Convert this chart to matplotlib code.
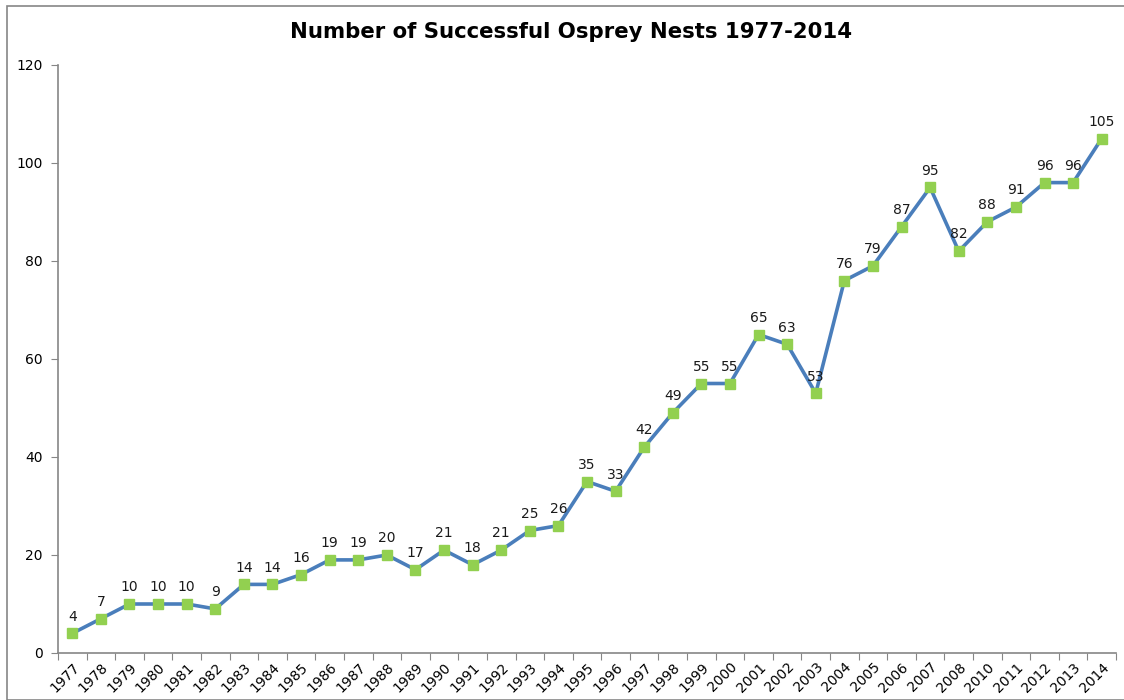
import matplotlib
matplotlib.use("Agg")
import matplotlib.pyplot as plt
from matplotlib.patches import Rectangle
import numpy as np

years = ["1977", "1978", "1979", "1980", "1981", "1982", "1983", "1984", "1985",
         "1986", "1987", "1988", "1989", "1990", "1991", "1992", "1993", "1994",
         "1995", "1996", "1997", "1998", "1999", "2000", "2001", "2002", "2003",
         "2004", "2005", "2006", "2007", "2008", "2010", "2011", "2012", "2013", "2014"]
nests = [4, 7, 10, 10, 10, 9, 14, 14, 16, 19, 19, 20, 17, 21, 18, 21, 25, 26,
         35, 33, 42, 49, 55, 55, 65, 63, 53, 76, 79, 87, 95, 82, 88, 91, 96, 96, 105]
y_ticks = [0, 20, 40, 60, 80, 100, 120]
title = "Number of Successful Osprey Nests 1977-2014"

fig = plt.figure(figsize=(11.24, 7.0), dpi=100)
fig.patches.append(Rectangle((7/1124, 0), 1.2, 1 - 6/700, transform=fig.transFigure,
                             fill=False, edgecolor="#868686", linewidth=1.2))
ax = fig.add_axes([58/1124, 47/700, (1116-58)/1124, (653-65)/700])

x = np.arange(len(years))
ax.plot(x, nests, color="#4A7EBB", linewidth=2.6, marker="s", markersize=7.5,
        markerfacecolor="#92D050", markeredgecolor="#92D050", zorder=3)
for xi, v in zip(x, nests):
    ax.annotate(str(v), (xi, v), xytext=(0, 7), textcoords="offset points",
                ha="center", va="bottom", fontsize=10, color="#1a1a1a",
                family="DejaVu Sans")

ax.set_xlim(-0.5, len(years) - 0.5)
ax.set_ylim(0, 120)
ax.set_yticks(y_ticks)
ax.set_yticklabels([str(t) for t in y_ticks], fontsize=10, family="DejaVu Sans")
ax.set_xticks(np.arange(len(years) + 1) - 0.5)
ax.set_xticklabels([])
ax.set_xticks(x, minor=True)
ax.set_xticklabels(years, minor=True, rotation=45, ha="right", va="top",
                   rotation_mode="anchor", fontsize=10, family="DejaVu Sans")
ax.tick_params(axis="x", which="minor", length=0, pad=5)
ax.tick_params(axis="x", which="major", length=5, color="#868686")
ax.tick_params(axis="y", length=5, color="#868686", pad=6)
for s in ["top", "right"]:
    ax.spines[s].set_visible(False)
for s in ["left", "bottom"]:
    ax.spines[s].set_color("#868686")
    ax.spines[s].set_linewidth(1.2)

fig.text(571/1124, 1 - 32/700, title, ha="center", va="center", fontsize=15.3,
         fontweight="bold", family="DejaVu Sans")

fig.savefig("out.png", dpi=100)
